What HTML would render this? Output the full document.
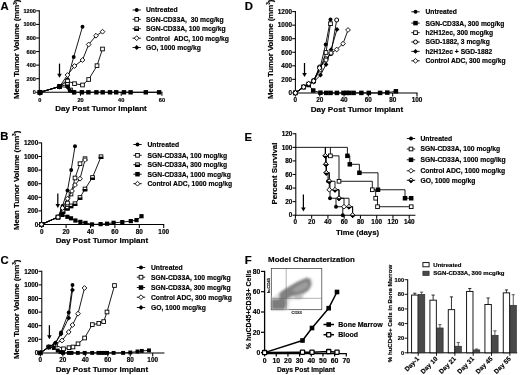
<!DOCTYPE html>
<html><head><meta charset="utf-8"><title>Figure</title>
<style>
html,body{margin:0;padding:0;background:#fff;}
body{width:520px;height:375px;overflow:hidden;}
svg{display:block;}
svg text{font-family:"Liberation Sans",sans-serif;font-weight:bold;fill:#000;stroke:#000;stroke-width:0.18px;}
</style></head><body>
<svg width="520" height="375" viewBox="0 0 520 375">
<defs><filter id="soft" x="0" y="0" width="520" height="375" filterUnits="userSpaceOnUse"><feGaussianBlur stdDeviation="0.35"/></filter><filter id="bl" x="-20%" y="-20%" width="140%" height="140%"><feGaussianBlur stdDeviation="0.9"/></filter></defs>
<rect width="520" height="375" fill="#fff"/>
<g filter="url(#soft)">
<text x="0.6" y="10.05" font-size="11.3" text-anchor="start" >A</text>
<line x1="39.3" y1="10.29" x2="39.3" y2="92.83" stroke="#000" stroke-width="1.05"/>
<line x1="36.1" y1="92.3" x2="39.3" y2="92.3" stroke="#000" stroke-width="1.05"/>
<text x="35.9" y="94.3" font-size="5.6" text-anchor="end" >0</text>
<line x1="36.1" y1="78.72" x2="39.3" y2="78.72" stroke="#000" stroke-width="1.05"/>
<text x="35.9" y="80.72" font-size="5.6" text-anchor="end" >200</text>
<line x1="36.1" y1="65.14" x2="39.3" y2="65.14" stroke="#000" stroke-width="1.05"/>
<text x="35.9" y="67.14" font-size="5.6" text-anchor="end" >400</text>
<line x1="36.1" y1="51.56" x2="39.3" y2="51.56" stroke="#000" stroke-width="1.05"/>
<text x="35.9" y="53.56" font-size="5.6" text-anchor="end" >600</text>
<line x1="36.1" y1="37.98" x2="39.3" y2="37.98" stroke="#000" stroke-width="1.05"/>
<text x="35.9" y="39.98" font-size="5.6" text-anchor="end" >800</text>
<line x1="36.1" y1="24.4" x2="39.3" y2="24.4" stroke="#000" stroke-width="1.05"/>
<text x="35.9" y="26.4" font-size="5.6" text-anchor="end" >1000</text>
<line x1="36.1" y1="10.82" x2="39.3" y2="10.82" stroke="#000" stroke-width="1.05"/>
<text x="35.9" y="12.82" font-size="5.6" text-anchor="end" >1200</text>
<line x1="39.27" y1="92.3" x2="162.43" y2="92.3" stroke="#000" stroke-width="1.05"/>
<line x1="39.8" y1="92.3" x2="39.8" y2="95.8" stroke="#000" stroke-width="1.05"/>
<text x="39.8" y="101.6" font-size="5.6" text-anchor="middle" >0</text>
<line x1="80.5" y1="92.3" x2="80.5" y2="95.8" stroke="#000" stroke-width="1.05"/>
<text x="80.5" y="101.6" font-size="5.6" text-anchor="middle" >20</text>
<line x1="121.2" y1="92.3" x2="121.2" y2="95.8" stroke="#000" stroke-width="1.05"/>
<text x="121.2" y="101.6" font-size="5.6" text-anchor="middle" >40</text>
<line x1="161.9" y1="92.3" x2="161.9" y2="95.8" stroke="#000" stroke-width="1.05"/>
<text x="161.9" y="101.6" font-size="5.6" text-anchor="middle" >60</text>
<text x="19.19" y="49.3" font-size="7.8" text-anchor="middle" transform="rotate(-90 19.19 49.3)">Mean Tumor Volume (mm<tspan font-size="4.6" dy="-2.6">3</tspan><tspan dy="2.6">)</tspan></text>
<text x="101" y="111.46" font-size="8.0" text-anchor="middle" >Day Post Tumor Implant</text>
<line x1="59.5" y1="63.6" x2="59.5" y2="76.3" stroke="#000" stroke-width="1.25"/>
<polygon points="57.2,73.8 61.8,73.8 59.5,77.8" fill="#000"/>
<polyline points="40,92.3 59.6,86.5 67.5,79.5 73.7,57 82.5,26.7" fill="none" stroke="#000" stroke-width="0.9" stroke-linejoin="round"/>
<circle cx="40" cy="92.3" r="1.95" fill="#000"/>
<circle cx="59.6" cy="86.5" r="1.95" fill="#000"/>
<circle cx="67.5" cy="79.5" r="1.95" fill="#000"/>
<circle cx="73.7" cy="57" r="1.95" fill="#000"/>
<circle cx="82.5" cy="26.7" r="1.95" fill="#000"/>
<polyline points="40,92.3 59.6,86.5 67.5,81 74.5,83.7 82.5,85 88.7,79.5 97,65.7 102.5,49" fill="none" stroke="#000" stroke-width="0.9" stroke-linejoin="round"/>
<rect x="38.15" y="90.45" width="3.7" height="3.7" fill="#fff" stroke="#000" stroke-width="0.9"/>
<rect x="57.75" y="84.65" width="3.7" height="3.7" fill="#fff" stroke="#000" stroke-width="0.9"/>
<rect x="65.65" y="79.15" width="3.7" height="3.7" fill="#fff" stroke="#000" stroke-width="0.9"/>
<rect x="72.65" y="81.85" width="3.7" height="3.7" fill="#fff" stroke="#000" stroke-width="0.9"/>
<rect x="80.65" y="83.15" width="3.7" height="3.7" fill="#fff" stroke="#000" stroke-width="0.9"/>
<rect x="86.85" y="77.65" width="3.7" height="3.7" fill="#fff" stroke="#000" stroke-width="0.9"/>
<rect x="95.15" y="63.85" width="3.7" height="3.7" fill="#fff" stroke="#000" stroke-width="0.9"/>
<rect x="100.65" y="47.15" width="3.7" height="3.7" fill="#fff" stroke="#000" stroke-width="0.9"/>
<polyline points="40,92.3 59.6,86.5 67.5,75 74.5,66 82.5,60 88.7,44.5 96,35.7 102.5,31.7" fill="none" stroke="#000" stroke-width="0.9" stroke-linejoin="round"/>
<polygon points="40,89.9 42.4,92.3 40,94.7 37.6,92.3" fill="#fff" stroke="#000" stroke-width="0.9"/>
<polygon points="59.6,84.1 62.0,86.5 59.6,88.9 57.2,86.5" fill="#fff" stroke="#000" stroke-width="0.9"/>
<polygon points="67.5,72.6 69.9,75 67.5,77.4 65.1,75" fill="#fff" stroke="#000" stroke-width="0.9"/>
<polygon points="74.5,63.6 76.9,66 74.5,68.4 72.1,66" fill="#fff" stroke="#000" stroke-width="0.9"/>
<polygon points="82.5,57.6 84.9,60 82.5,62.4 80.1,60" fill="#fff" stroke="#000" stroke-width="0.9"/>
<polygon points="88.7,42.1 91.1,44.5 88.7,46.9 86.3,44.5" fill="#fff" stroke="#000" stroke-width="0.9"/>
<polygon points="96,33.3 98.4,35.7 96,38.1 93.6,35.7" fill="#fff" stroke="#000" stroke-width="0.9"/>
<polygon points="102.5,29.3 104.9,31.7 102.5,34.1 100.1,31.7" fill="#fff" stroke="#000" stroke-width="0.9"/>
<polyline points="40,92.3 59.6,86.5 67.5,84.5 70.5,90" fill="none" stroke="#000" stroke-width="0.9" stroke-linejoin="round"/>
<rect x="38.15" y="90.45" width="3.7" height="3.7" fill="#fff" stroke="#000" stroke-width="0.9"/>
<rect x="37.7" y="92.3" width="4.6" height="2.3" fill="#000"/>
<rect x="57.75" y="84.65" width="3.7" height="3.7" fill="#fff" stroke="#000" stroke-width="0.9"/>
<rect x="57.3" y="86.5" width="4.6" height="2.3" fill="#000"/>
<rect x="65.65" y="82.65" width="3.7" height="3.7" fill="#fff" stroke="#000" stroke-width="0.9"/>
<rect x="65.2" y="84.5" width="4.6" height="2.3" fill="#000"/>
<rect x="68.65" y="88.15" width="3.7" height="3.7" fill="#fff" stroke="#000" stroke-width="0.9"/>
<rect x="68.2" y="90" width="4.6" height="2.3" fill="#000"/>
<polyline points="40,92.3 59.6,86.5 67.8,87.5 70,90.5 73.8,92.3" fill="none" stroke="#000" stroke-width="0.9" stroke-linejoin="round"/>
<polygon points="40,89.85 42.45,92.3 40,94.75 37.55,92.3" fill="#000"/>
<polygon points="59.6,84.05 62.05,86.5 59.6,88.95 57.15,86.5" fill="#000"/>
<polygon points="67.8,85.05 70.25,87.5 67.8,89.95 65.35,87.5" fill="#000"/>
<polygon points="70,88.05 72.45,90.5 70,92.95 67.55,90.5" fill="#000"/>
<polygon points="73.8,89.85 76.25,92.3 73.8,94.75 71.35,92.3" fill="#000"/>
<polyline points="70.5,90 73.8,92.3 159,92.3" fill="none" stroke="#000" stroke-width="0.9" stroke-linejoin="round"/>
<rect x="37.8" y="90.1" width="4.4" height="4.4" fill="#000"/>
<rect x="71.9" y="90.1" width="4.4" height="4.4" fill="#000"/>
<rect x="79.7" y="90.1" width="4.4" height="4.4" fill="#000"/>
<rect x="86.2" y="90.1" width="4.4" height="4.4" fill="#000"/>
<rect x="94.2" y="90.1" width="4.4" height="4.4" fill="#000"/>
<rect x="100.5" y="90.1" width="4.4" height="4.4" fill="#000"/>
<rect x="107.8" y="90.1" width="4.4" height="4.4" fill="#000"/>
<rect x="114.0" y="90.1" width="4.4" height="4.4" fill="#000"/>
<rect x="121.8" y="90.1" width="4.4" height="4.4" fill="#000"/>
<rect x="128.4" y="90.1" width="4.4" height="4.4" fill="#000"/>
<rect x="143.6" y="90.1" width="4.4" height="4.4" fill="#000"/>
<rect x="156.9" y="90.1" width="4.4" height="4.4" fill="#000"/>
<rect x="57.4" y="84.3" width="4.4" height="4.4" fill="#000"/>
<line x1="132.5" y1="10" x2="140.9" y2="10" stroke="#000" stroke-width="0.9"/>
<circle cx="136.7" cy="10" r="1.95" fill="#000"/>
<text x="146" y="12.42" font-size="6.76" text-anchor="start" >Untreated</text>
<line x1="132.5" y1="19.3" x2="140.9" y2="19.3" stroke="#000" stroke-width="0.9"/>
<rect x="134.85" y="17.45" width="3.7" height="3.7" fill="#fff" stroke="#000" stroke-width="0.9"/>
<text x="146" y="21.72" font-size="6.76" text-anchor="start" >SGN-CD33A,&#160;&#160;30 mcg/kg</text>
<line x1="132.5" y1="28.7" x2="140.9" y2="28.7" stroke="#000" stroke-width="0.9"/>
<rect x="134.85" y="26.85" width="3.7" height="3.7" fill="#fff" stroke="#000" stroke-width="0.9"/>
<rect x="134.4" y="28.7" width="4.6" height="2.3" fill="#000"/>
<text x="146" y="31.12" font-size="6.76" text-anchor="start" >SGN-CD33A, 100 mcg/kg</text>
<line x1="132.5" y1="38.2" x2="140.9" y2="38.2" stroke="#000" stroke-width="0.9"/>
<polygon points="136.7,35.8 139.1,38.2 136.7,40.6 134.3,38.2" fill="#fff" stroke="#000" stroke-width="0.9"/>
<text x="146" y="40.62" font-size="6.76" text-anchor="start" >Control&#160;&#160;ADC, 100 mcg/kg</text>
<line x1="132.5" y1="47.5" x2="140.9" y2="47.5" stroke="#000" stroke-width="0.9"/>
<polygon points="136.7,45.05 139.15,47.5 136.7,49.95 134.25,47.5" fill="#000"/>
<text x="146" y="49.92" font-size="6.76" text-anchor="start" >GO, 1000 mcg/kg</text>
<text x="0.2" y="140.35" font-size="11.3" text-anchor="start" >B</text>
<line x1="41.6" y1="142.38" x2="41.6" y2="225.03" stroke="#000" stroke-width="1.05"/>
<line x1="38.4" y1="224.5" x2="41.6" y2="224.5" stroke="#000" stroke-width="1.05"/>
<text x="38.2" y="226.79" font-size="6.4" text-anchor="end" >0</text>
<line x1="38.4" y1="210.9" x2="41.6" y2="210.9" stroke="#000" stroke-width="1.05"/>
<text x="38.2" y="213.19" font-size="6.4" text-anchor="end" >200</text>
<line x1="38.4" y1="197.3" x2="41.6" y2="197.3" stroke="#000" stroke-width="1.05"/>
<text x="38.2" y="199.59" font-size="6.4" text-anchor="end" >400</text>
<line x1="38.4" y1="183.7" x2="41.6" y2="183.7" stroke="#000" stroke-width="1.05"/>
<text x="38.2" y="185.99" font-size="6.4" text-anchor="end" >600</text>
<line x1="38.4" y1="170.1" x2="41.6" y2="170.1" stroke="#000" stroke-width="1.05"/>
<text x="38.2" y="172.39" font-size="6.4" text-anchor="end" >800</text>
<line x1="38.4" y1="156.5" x2="41.6" y2="156.5" stroke="#000" stroke-width="1.05"/>
<text x="38.2" y="158.79" font-size="6.4" text-anchor="end" >1000</text>
<line x1="38.4" y1="142.9" x2="41.6" y2="142.9" stroke="#000" stroke-width="1.05"/>
<text x="38.2" y="145.19" font-size="6.4" text-anchor="end" >1200</text>
<line x1="41.18" y1="224.5" x2="164.22" y2="224.5" stroke="#000" stroke-width="1.05"/>
<line x1="41.7" y1="224.5" x2="41.7" y2="228.0" stroke="#000" stroke-width="1.05"/>
<text x="41.7" y="233.79" font-size="6.4" text-anchor="middle" >0</text>
<line x1="66.1" y1="224.5" x2="66.1" y2="228.0" stroke="#000" stroke-width="1.05"/>
<text x="66.1" y="233.79" font-size="6.4" text-anchor="middle" >20</text>
<line x1="90.5" y1="224.5" x2="90.5" y2="228.0" stroke="#000" stroke-width="1.05"/>
<text x="90.5" y="233.79" font-size="6.4" text-anchor="middle" >40</text>
<line x1="114.9" y1="224.5" x2="114.9" y2="228.0" stroke="#000" stroke-width="1.05"/>
<text x="114.9" y="233.79" font-size="6.4" text-anchor="middle" >60</text>
<line x1="139.3" y1="224.5" x2="139.3" y2="228.0" stroke="#000" stroke-width="1.05"/>
<text x="139.3" y="233.79" font-size="6.4" text-anchor="middle" >80</text>
<line x1="163.7" y1="224.5" x2="163.7" y2="228.0" stroke="#000" stroke-width="1.05"/>
<text x="163.7" y="233.79" font-size="6.4" text-anchor="middle" >100</text>
<text x="18.99" y="180.4" font-size="7.8" text-anchor="middle" transform="rotate(-90 18.99 180.4)">Mean Tumor Volume (mm<tspan font-size="4.6" dy="-2.6">3</tspan><tspan dy="2.6">)</tspan></text>
<text x="102" y="243.1" font-size="8.1" text-anchor="middle" >Day Post Tumor Implant</text>
<line x1="57.8" y1="193.6" x2="57.8" y2="206.5" stroke="#000" stroke-width="1.25"/>
<polygon points="55.5,204 60.1,204 57.8,208" fill="#000"/>
<polyline points="41.5,224.4 58,217.1 62.5,206 67.5,190.5 71.2,170 75,146.2" fill="none" stroke="#000" stroke-width="0.9" stroke-linejoin="round"/>
<circle cx="41.5" cy="224.4" r="1.95" fill="#000"/>
<circle cx="58" cy="217.1" r="1.95" fill="#000"/>
<circle cx="62.5" cy="206" r="1.95" fill="#000"/>
<circle cx="67.5" cy="190.5" r="1.95" fill="#000"/>
<circle cx="71.2" cy="170" r="1.95" fill="#000"/>
<circle cx="75" cy="146.2" r="1.95" fill="#000"/>
<polyline points="41.5,224.4 58,217.1 62.5,210 67.5,203 71,194 75,178 80,163.7 85,158.7" fill="none" stroke="#000" stroke-width="0.9" stroke-linejoin="round"/>
<rect x="39.65" y="222.55" width="3.7" height="3.7" fill="#fff" stroke="#000" stroke-width="0.9"/>
<rect x="56.15" y="215.25" width="3.7" height="3.7" fill="#fff" stroke="#000" stroke-width="0.9"/>
<rect x="60.65" y="208.15" width="3.7" height="3.7" fill="#fff" stroke="#000" stroke-width="0.9"/>
<rect x="65.65" y="201.15" width="3.7" height="3.7" fill="#fff" stroke="#000" stroke-width="0.9"/>
<rect x="69.15" y="192.15" width="3.7" height="3.7" fill="#fff" stroke="#000" stroke-width="0.9"/>
<rect x="73.15" y="176.15" width="3.7" height="3.7" fill="#fff" stroke="#000" stroke-width="0.9"/>
<rect x="78.15" y="161.85" width="3.7" height="3.7" fill="#fff" stroke="#000" stroke-width="0.9"/>
<rect x="83.15" y="156.85" width="3.7" height="3.7" fill="#fff" stroke="#000" stroke-width="0.9"/>
<polyline points="41.5,224.4 58,217.1 63,211.5 67.4,208.2 71,205.9 75,203.7 80,197.5 85,189 92.5,177.5 101,156.7" fill="none" stroke="#000" stroke-width="0.9" stroke-linejoin="round"/>
<rect x="39.65" y="222.55" width="3.7" height="3.7" fill="#fff" stroke="#000" stroke-width="0.9"/>
<rect x="39.2" y="224.4" width="4.6" height="2.3" fill="#000"/>
<rect x="56.15" y="215.25" width="3.7" height="3.7" fill="#fff" stroke="#000" stroke-width="0.9"/>
<rect x="55.7" y="217.1" width="4.6" height="2.3" fill="#000"/>
<rect x="61.15" y="209.65" width="3.7" height="3.7" fill="#fff" stroke="#000" stroke-width="0.9"/>
<rect x="60.7" y="211.5" width="4.6" height="2.3" fill="#000"/>
<rect x="65.55" y="206.35" width="3.7" height="3.7" fill="#fff" stroke="#000" stroke-width="0.9"/>
<rect x="65.1" y="208.2" width="4.6" height="2.3" fill="#000"/>
<rect x="69.15" y="204.05" width="3.7" height="3.7" fill="#fff" stroke="#000" stroke-width="0.9"/>
<rect x="68.7" y="205.9" width="4.6" height="2.3" fill="#000"/>
<rect x="73.15" y="201.85" width="3.7" height="3.7" fill="#fff" stroke="#000" stroke-width="0.9"/>
<rect x="72.7" y="203.7" width="4.6" height="2.3" fill="#000"/>
<rect x="78.15" y="195.65" width="3.7" height="3.7" fill="#fff" stroke="#000" stroke-width="0.9"/>
<rect x="77.7" y="197.5" width="4.6" height="2.3" fill="#000"/>
<rect x="83.15" y="187.15" width="3.7" height="3.7" fill="#fff" stroke="#000" stroke-width="0.9"/>
<rect x="82.7" y="189" width="4.6" height="2.3" fill="#000"/>
<rect x="90.65" y="175.65" width="3.7" height="3.7" fill="#fff" stroke="#000" stroke-width="0.9"/>
<rect x="90.2" y="177.5" width="4.6" height="2.3" fill="#000"/>
<rect x="99.15" y="154.85" width="3.7" height="3.7" fill="#fff" stroke="#000" stroke-width="0.9"/>
<rect x="98.7" y="156.7" width="4.6" height="2.3" fill="#000"/>
<polyline points="41.5,224.4 58,217.1 62.4,214.9 67.4,216.8 71,218.3 75.4,220.5 80.4,221.9 85.5,222.9 92,224.4 100.6,224.1 107.1,223.7 113.6,222.8 122.3,222.1 130.8,221.1 136.5,220.1 141.5,216.2" fill="none" stroke="#000" stroke-width="0.9" stroke-linejoin="round"/>
<rect x="39.4" y="222.3" width="4.2" height="4.2" fill="#000"/>
<rect x="55.9" y="215.0" width="4.2" height="4.2" fill="#000"/>
<rect x="60.3" y="212.8" width="4.2" height="4.2" fill="#000"/>
<rect x="65.3" y="214.7" width="4.2" height="4.2" fill="#000"/>
<rect x="68.9" y="216.2" width="4.2" height="4.2" fill="#000"/>
<rect x="73.3" y="218.4" width="4.2" height="4.2" fill="#000"/>
<rect x="78.3" y="219.8" width="4.2" height="4.2" fill="#000"/>
<rect x="83.4" y="220.8" width="4.2" height="4.2" fill="#000"/>
<rect x="89.9" y="222.3" width="4.2" height="4.2" fill="#000"/>
<rect x="98.5" y="222.0" width="4.2" height="4.2" fill="#000"/>
<rect x="105.0" y="221.6" width="4.2" height="4.2" fill="#000"/>
<rect x="111.5" y="220.7" width="4.2" height="4.2" fill="#000"/>
<rect x="120.2" y="220.0" width="4.2" height="4.2" fill="#000"/>
<rect x="128.7" y="219.0" width="4.2" height="4.2" fill="#000"/>
<rect x="134.4" y="218.0" width="4.2" height="4.2" fill="#000"/>
<rect x="139.4" y="214.1" width="4.2" height="4.2" fill="#000"/>
<polyline points="41.5,224.4 58,217.1 62.5,208 67.5,198.7 72,191 75,185 80,178.7 85,160" fill="none" stroke="#000" stroke-width="0.9" stroke-linejoin="round"/>
<polygon points="41.5,222.0 43.9,224.4 41.5,226.8 39.1,224.4" fill="#fff" stroke="#000" stroke-width="0.9"/>
<polygon points="58,214.7 60.4,217.1 58,219.5 55.6,217.1" fill="#fff" stroke="#000" stroke-width="0.9"/>
<polygon points="62.5,205.6 64.9,208 62.5,210.4 60.1,208" fill="#fff" stroke="#000" stroke-width="0.9"/>
<polygon points="67.5,196.3 69.9,198.7 67.5,201.1 65.1,198.7" fill="#fff" stroke="#000" stroke-width="0.9"/>
<polygon points="72,188.6 74.4,191 72,193.4 69.6,191" fill="#fff" stroke="#000" stroke-width="0.9"/>
<polygon points="75,182.6 77.4,185 75,187.4 72.6,185" fill="#fff" stroke="#000" stroke-width="0.9"/>
<polygon points="80,176.3 82.4,178.7 80,181.1 77.6,178.7" fill="#fff" stroke="#000" stroke-width="0.9"/>
<polygon points="85,157.6 87.4,160 85,162.4 82.6,160" fill="#fff" stroke="#000" stroke-width="0.9"/>
<circle cx="41.5" cy="224.4" r="2.0" fill="#fff" stroke="#000" stroke-width="1.0"/>
<line x1="133.3" y1="144.5" x2="141.7" y2="144.5" stroke="#000" stroke-width="0.9"/>
<circle cx="137.5" cy="144.5" r="1.95" fill="#000"/>
<text x="147.5" y="146.92" font-size="6.76" text-anchor="start" >Untreated</text>
<line x1="133.3" y1="155.3" x2="141.7" y2="155.3" stroke="#000" stroke-width="0.9"/>
<rect x="135.65" y="153.45" width="3.7" height="3.7" fill="#fff" stroke="#000" stroke-width="0.9"/>
<text x="147.5" y="157.72" font-size="6.76" text-anchor="start" >SGN-CD33A, 100 mcg/kg</text>
<line x1="133.3" y1="164.7" x2="141.7" y2="164.7" stroke="#000" stroke-width="0.9"/>
<rect x="135.65" y="162.85" width="3.7" height="3.7" fill="#fff" stroke="#000" stroke-width="0.9"/>
<rect x="135.2" y="164.7" width="4.6" height="2.3" fill="#000"/>
<text x="147.5" y="167.12" font-size="6.76" text-anchor="start" >SGN-CD33A, 300 mcg/kg</text>
<line x1="133.3" y1="174.2" x2="141.7" y2="174.2" stroke="#000" stroke-width="0.9"/>
<rect x="135.25" y="171.95" width="4.5" height="4.5" fill="#000"/>
<text x="147.5" y="176.62" font-size="6.76" text-anchor="start" >SGN-CD33A, 1000 mcg/kg</text>
<line x1="133.3" y1="183.7" x2="141.7" y2="183.7" stroke="#000" stroke-width="0.9"/>
<polygon points="137.5,181.3 139.9,183.7 137.5,186.1 135.1,183.7" fill="#fff" stroke="#000" stroke-width="0.9"/>
<text x="147.5" y="186.12" font-size="6.76" text-anchor="start" >Control ADC, 1000 mcg/kg</text>
<text x="0.6" y="264.35" font-size="11.3" text-anchor="start" >C</text>
<line x1="41.8" y1="270.77" x2="41.8" y2="353.42" stroke="#000" stroke-width="1.05"/>
<line x1="38.6" y1="352.9" x2="41.8" y2="352.9" stroke="#000" stroke-width="1.05"/>
<text x="38.4" y="355.19" font-size="6.4" text-anchor="end" >0</text>
<line x1="38.6" y1="339.3" x2="41.8" y2="339.3" stroke="#000" stroke-width="1.05"/>
<text x="38.4" y="341.59" font-size="6.4" text-anchor="end" >200</text>
<line x1="38.6" y1="325.7" x2="41.8" y2="325.7" stroke="#000" stroke-width="1.05"/>
<text x="38.4" y="327.99" font-size="6.4" text-anchor="end" >400</text>
<line x1="38.6" y1="312.1" x2="41.8" y2="312.1" stroke="#000" stroke-width="1.05"/>
<text x="38.4" y="314.39" font-size="6.4" text-anchor="end" >600</text>
<line x1="38.6" y1="298.5" x2="41.8" y2="298.5" stroke="#000" stroke-width="1.05"/>
<text x="38.4" y="300.79" font-size="6.4" text-anchor="end" >800</text>
<line x1="38.6" y1="284.9" x2="41.8" y2="284.9" stroke="#000" stroke-width="1.05"/>
<text x="38.4" y="287.19" font-size="6.4" text-anchor="end" >1000</text>
<line x1="38.6" y1="271.3" x2="41.8" y2="271.3" stroke="#000" stroke-width="1.05"/>
<text x="38.4" y="273.59" font-size="6.4" text-anchor="end" >1200</text>
<line x1="39.88" y1="352.9" x2="164.46" y2="352.9" stroke="#000" stroke-width="1.05"/>
<line x1="40.4" y1="352.9" x2="40.4" y2="356.4" stroke="#000" stroke-width="1.05"/>
<text x="40.4" y="362.19" font-size="6.4" text-anchor="middle" >0</text>
<line x1="62.86" y1="352.9" x2="62.86" y2="356.4" stroke="#000" stroke-width="1.05"/>
<text x="62.86" y="362.19" font-size="6.4" text-anchor="middle" >20</text>
<line x1="85.32" y1="352.9" x2="85.32" y2="356.4" stroke="#000" stroke-width="1.05"/>
<text x="85.32" y="362.19" font-size="6.4" text-anchor="middle" >40</text>
<line x1="107.78" y1="352.9" x2="107.78" y2="356.4" stroke="#000" stroke-width="1.05"/>
<text x="107.78" y="362.19" font-size="6.4" text-anchor="middle" >60</text>
<line x1="130.24" y1="352.9" x2="130.24" y2="356.4" stroke="#000" stroke-width="1.05"/>
<text x="130.24" y="362.19" font-size="6.4" text-anchor="middle" >80</text>
<line x1="152.7" y1="352.9" x2="152.7" y2="356.4" stroke="#000" stroke-width="1.05"/>
<text x="152.7" y="362.19" font-size="6.4" text-anchor="middle" >100</text>
<text x="18.99" y="309.3" font-size="7.8" text-anchor="middle" transform="rotate(-90 18.99 309.3)">Mean Tumor Volume (mm<tspan font-size="4.6" dy="-2.6">3</tspan><tspan dy="2.6">)</tspan></text>
<text x="102" y="372.2" font-size="8.1" text-anchor="middle" >Day Post Tumor Implant</text>
<line x1="49.4" y1="325.2" x2="49.4" y2="337.7" stroke="#000" stroke-width="1.25"/>
<polygon points="47.1,335.2 51.7,335.2 49.4,339.2" fill="#000"/>
<polyline points="40.4,352.9 48.8,347 55.5,343 61,332.5 68.7,312.5 72.5,285" fill="none" stroke="#000" stroke-width="0.9" stroke-linejoin="round"/>
<circle cx="40.4" cy="352.9" r="1.95" fill="#000"/>
<circle cx="48.8" cy="347" r="1.95" fill="#000"/>
<circle cx="55.5" cy="343" r="1.95" fill="#000"/>
<circle cx="61" cy="332.5" r="1.95" fill="#000"/>
<circle cx="68.7" cy="312.5" r="1.95" fill="#000"/>
<circle cx="72.5" cy="285" r="1.95" fill="#000"/>
<polyline points="40.4,352.9 48.8,347 55.5,345 63.5,348.8 69,347.7 73,347 78,343.8 84.6,338 92.3,324.6 98.8,323.4 103.7,321.6 107,312 114.5,285.5" fill="none" stroke="#000" stroke-width="0.9" stroke-linejoin="round"/>
<rect x="38.55" y="351.05" width="3.7" height="3.7" fill="#fff" stroke="#000" stroke-width="0.9"/>
<rect x="46.95" y="345.15" width="3.7" height="3.7" fill="#fff" stroke="#000" stroke-width="0.9"/>
<rect x="53.65" y="343.15" width="3.7" height="3.7" fill="#fff" stroke="#000" stroke-width="0.9"/>
<rect x="61.65" y="346.95" width="3.7" height="3.7" fill="#fff" stroke="#000" stroke-width="0.9"/>
<rect x="67.15" y="345.85" width="3.7" height="3.7" fill="#fff" stroke="#000" stroke-width="0.9"/>
<rect x="71.15" y="345.15" width="3.7" height="3.7" fill="#fff" stroke="#000" stroke-width="0.9"/>
<rect x="76.15" y="341.95" width="3.7" height="3.7" fill="#fff" stroke="#000" stroke-width="0.9"/>
<rect x="82.75" y="336.15" width="3.7" height="3.7" fill="#fff" stroke="#000" stroke-width="0.9"/>
<rect x="90.45" y="322.75" width="3.7" height="3.7" fill="#fff" stroke="#000" stroke-width="0.9"/>
<rect x="96.95" y="321.55" width="3.7" height="3.7" fill="#fff" stroke="#000" stroke-width="0.9"/>
<rect x="101.85" y="319.75" width="3.7" height="3.7" fill="#fff" stroke="#000" stroke-width="0.9"/>
<rect x="105.15" y="310.15" width="3.7" height="3.7" fill="#fff" stroke="#000" stroke-width="0.9"/>
<rect x="112.65" y="283.65" width="3.7" height="3.7" fill="#fff" stroke="#000" stroke-width="0.9"/>
<polyline points="40.4,352.9 48.8,347 53.8,348 57.7,350.5 60.5,352 63.1,352.9 68.9,352.9 71.5,352.9 77.8,352.9 84.7,352.9 92.2,352.9 98.4,352.9 101.3,352.9 104.2,352.9 107.1,352.9 113.6,352.9 123.1,352.9 130.3,352.5 137.5,351.5 141.8,350.9 149,350.4" fill="none" stroke="#000" stroke-width="0.9" stroke-linejoin="round"/>
<rect x="38.45" y="350.95" width="3.9" height="3.9" fill="#000"/>
<rect x="46.85" y="345.05" width="3.9" height="3.9" fill="#000"/>
<rect x="51.85" y="346.05" width="3.9" height="3.9" fill="#000"/>
<rect x="55.75" y="348.55" width="3.9" height="3.9" fill="#000"/>
<rect x="58.55" y="350.05" width="3.9" height="3.9" fill="#000"/>
<rect x="61.15" y="350.95" width="3.9" height="3.9" fill="#000"/>
<rect x="66.95" y="350.95" width="3.9" height="3.9" fill="#000"/>
<rect x="69.55" y="350.95" width="3.9" height="3.9" fill="#000"/>
<rect x="75.85" y="350.95" width="3.9" height="3.9" fill="#000"/>
<rect x="82.75" y="350.95" width="3.9" height="3.9" fill="#000"/>
<rect x="90.25" y="350.95" width="3.9" height="3.9" fill="#000"/>
<rect x="96.45" y="350.95" width="3.9" height="3.9" fill="#000"/>
<rect x="99.35" y="350.95" width="3.9" height="3.9" fill="#000"/>
<rect x="102.25" y="350.95" width="3.9" height="3.9" fill="#000"/>
<rect x="105.15" y="350.95" width="3.9" height="3.9" fill="#000"/>
<rect x="111.65" y="350.95" width="3.9" height="3.9" fill="#000"/>
<rect x="121.15" y="350.95" width="3.9" height="3.9" fill="#000"/>
<rect x="128.35" y="350.55" width="3.9" height="3.9" fill="#000"/>
<rect x="135.55" y="349.55" width="3.9" height="3.9" fill="#000"/>
<rect x="139.85" y="348.95" width="3.9" height="3.9" fill="#000"/>
<rect x="147.05" y="348.45" width="3.9" height="3.9" fill="#000"/>
<polyline points="40.4,352.9 48.8,347 55.5,343.5 62,340.5 68.7,332 72.5,325 78,313.7 84.5,288" fill="none" stroke="#000" stroke-width="0.9" stroke-linejoin="round"/>
<polygon points="40.4,350.5 42.8,352.9 40.4,355.3 38.0,352.9" fill="#fff" stroke="#000" stroke-width="0.9"/>
<polygon points="48.8,344.6 51.2,347 48.8,349.4 46.4,347" fill="#fff" stroke="#000" stroke-width="0.9"/>
<polygon points="55.5,341.1 57.9,343.5 55.5,345.9 53.1,343.5" fill="#fff" stroke="#000" stroke-width="0.9"/>
<polygon points="62,338.1 64.4,340.5 62,342.9 59.6,340.5" fill="#fff" stroke="#000" stroke-width="0.9"/>
<polygon points="68.7,329.6 71.1,332 68.7,334.4 66.3,332" fill="#fff" stroke="#000" stroke-width="0.9"/>
<polygon points="72.5,322.6 74.9,325 72.5,327.4 70.1,325" fill="#fff" stroke="#000" stroke-width="0.9"/>
<polygon points="78,311.3 80.4,313.7 78,316.1 75.6,313.7" fill="#fff" stroke="#000" stroke-width="0.9"/>
<polygon points="84.5,285.6 86.9,288 84.5,290.4 82.1,288" fill="#fff" stroke="#000" stroke-width="0.9"/>
<polyline points="40.4,352.9 48.8,347 55.5,343 61,334 68.7,318 72.5,290" fill="none" stroke="#000" stroke-width="0.9" stroke-linejoin="round"/>
<polygon points="40.4,350.45 42.85,352.9 40.4,355.35 37.95,352.9" fill="#000"/>
<polygon points="48.8,344.55 51.25,347 48.8,349.45 46.35,347" fill="#000"/>
<polygon points="55.5,340.55 57.95,343 55.5,345.45 53.05,343" fill="#000"/>
<polygon points="61,331.55 63.45,334 61,336.45 58.55,334" fill="#000"/>
<polygon points="68.7,315.55 71.15,318 68.7,320.45 66.25,318" fill="#000"/>
<polygon points="72.5,287.55 74.95,290 72.5,292.45 70.05,290" fill="#000"/>
<line x1="136.8" y1="267.5" x2="145.2" y2="267.5" stroke="#000" stroke-width="0.9"/>
<circle cx="141" cy="267.5" r="1.95" fill="#000"/>
<text x="151" y="269.92" font-size="6.76" text-anchor="start" >Untreated</text>
<line x1="136.8" y1="277.2" x2="145.2" y2="277.2" stroke="#000" stroke-width="0.9"/>
<rect x="139.15" y="275.35" width="3.7" height="3.7" fill="#fff" stroke="#000" stroke-width="0.9"/>
<text x="151" y="279.62" font-size="6.76" text-anchor="start" >SGN-CD33A, 100 mcg/kg</text>
<line x1="136.8" y1="287.5" x2="145.2" y2="287.5" stroke="#000" stroke-width="0.9"/>
<rect x="138.75" y="285.25" width="4.5" height="4.5" fill="#000"/>
<text x="151" y="289.92" font-size="6.76" text-anchor="start" >SGN-CD33A, 300 mcg/kg</text>
<line x1="136.8" y1="297.2" x2="145.2" y2="297.2" stroke="#000" stroke-width="0.9"/>
<polygon points="141,294.8 143.4,297.2 141,299.6 138.6,297.2" fill="#fff" stroke="#000" stroke-width="0.9"/>
<text x="151" y="299.62" font-size="6.76" text-anchor="start" >Control ADC, 300 mcg/kg</text>
<line x1="136.8" y1="307.5" x2="145.2" y2="307.5" stroke="#000" stroke-width="0.9"/>
<polygon points="141,305.05 143.45,307.5 141,309.95 138.55,307.5" fill="#000"/>
<text x="151" y="309.92" font-size="6.76" text-anchor="start" >GO, 1000 mcg/kg</text>
<text x="244.7" y="9.95" font-size="11.3" text-anchor="start" >D</text>
<line x1="295.4" y1="11.07" x2="295.4" y2="93.43" stroke="#000" stroke-width="1.05"/>
<line x1="292.2" y1="92.9" x2="295.4" y2="92.9" stroke="#000" stroke-width="1.05"/>
<text x="292.0" y="95.19" font-size="6.4" text-anchor="end" >0</text>
<line x1="292.2" y1="79.35" x2="295.4" y2="79.35" stroke="#000" stroke-width="1.05"/>
<text x="292.0" y="81.64" font-size="6.4" text-anchor="end" >200</text>
<line x1="292.2" y1="65.8" x2="295.4" y2="65.8" stroke="#000" stroke-width="1.05"/>
<text x="292.0" y="68.09" font-size="6.4" text-anchor="end" >400</text>
<line x1="292.2" y1="52.25" x2="295.4" y2="52.25" stroke="#000" stroke-width="1.05"/>
<text x="292.0" y="54.54" font-size="6.4" text-anchor="end" >600</text>
<line x1="292.2" y1="38.7" x2="295.4" y2="38.7" stroke="#000" stroke-width="1.05"/>
<text x="292.0" y="40.99" font-size="6.4" text-anchor="end" >800</text>
<line x1="292.2" y1="25.15" x2="295.4" y2="25.15" stroke="#000" stroke-width="1.05"/>
<text x="292.0" y="27.44" font-size="6.4" text-anchor="end" >1000</text>
<line x1="292.2" y1="11.6" x2="295.4" y2="11.6" stroke="#000" stroke-width="1.05"/>
<text x="292.0" y="13.89" font-size="6.4" text-anchor="end" >1200</text>
<line x1="294.88" y1="92.9" x2="417.52" y2="92.9" stroke="#000" stroke-width="1.05"/>
<line x1="295.4" y1="92.9" x2="295.4" y2="96.4" stroke="#000" stroke-width="1.05"/>
<text x="295.4" y="102.19" font-size="6.4" text-anchor="middle" >0</text>
<line x1="319.72" y1="92.9" x2="319.72" y2="96.4" stroke="#000" stroke-width="1.05"/>
<text x="319.72" y="102.19" font-size="6.4" text-anchor="middle" >20</text>
<line x1="344.04" y1="92.9" x2="344.04" y2="96.4" stroke="#000" stroke-width="1.05"/>
<text x="344.04" y="102.19" font-size="6.4" text-anchor="middle" >40</text>
<line x1="368.36" y1="92.9" x2="368.36" y2="96.4" stroke="#000" stroke-width="1.05"/>
<text x="368.36" y="102.19" font-size="6.4" text-anchor="middle" >60</text>
<line x1="392.68" y1="92.9" x2="392.68" y2="96.4" stroke="#000" stroke-width="1.05"/>
<text x="392.68" y="102.19" font-size="6.4" text-anchor="middle" >80</text>
<line x1="417.0" y1="92.9" x2="417.0" y2="96.4" stroke="#000" stroke-width="1.05"/>
<text x="417.0" y="102.19" font-size="6.4" text-anchor="middle" >100</text>
<text x="272.69" y="49.3" font-size="7.8" text-anchor="middle" transform="rotate(-90 272.69 49.3)">Mean Tumor Volume (mm<tspan font-size="4.6" dy="-2.6">3</tspan><tspan dy="2.6">)</tspan></text>
<text x="357" y="112.2" font-size="8.1" text-anchor="middle" >Day Post Tumor Implant</text>
<line x1="304.5" y1="63" x2="304.5" y2="75.5" stroke="#000" stroke-width="1.25"/>
<polygon points="302.2,73 306.8,73 304.5,77" fill="#000"/>
<polyline points="295.4,92.9 303.7,87 308.7,84 313.7,80 320,68 325.7,44.5 330.5,19.5" fill="none" stroke="#000" stroke-width="0.9" stroke-linejoin="round"/>
<circle cx="295.4" cy="92.9" r="1.95" fill="#000"/>
<circle cx="303.7" cy="87" r="1.95" fill="#000"/>
<circle cx="308.7" cy="84" r="1.95" fill="#000"/>
<circle cx="313.7" cy="80" r="1.95" fill="#000"/>
<circle cx="320" cy="68" r="1.95" fill="#000"/>
<circle cx="325.7" cy="44.5" r="1.95" fill="#000"/>
<circle cx="330.5" cy="19.5" r="1.95" fill="#000"/>
<polyline points="295.4,92.9 303.7,87 308.7,85 313.2,90.5 320.4,92.7 326.2,92.9 330.5,92.9 336.9,92.9 343.5,92.9 346.4,92.9 349.3,92.9 353.6,92.9 361.4,92.9 368.8,92.9 380.1,92.9 387.3,92.6 395.9,91.3" fill="none" stroke="#000" stroke-width="0.9" stroke-linejoin="round"/>
<rect x="293.15" y="90.65" width="4.5" height="4.5" fill="#000"/>
<rect x="301.45" y="84.75" width="4.5" height="4.5" fill="#000"/>
<rect x="306.45" y="82.75" width="4.5" height="4.5" fill="#000"/>
<rect x="310.95" y="88.25" width="4.5" height="4.5" fill="#000"/>
<rect x="318.15" y="90.45" width="4.5" height="4.5" fill="#000"/>
<rect x="323.95" y="90.65" width="4.5" height="4.5" fill="#000"/>
<rect x="328.25" y="90.65" width="4.5" height="4.5" fill="#000"/>
<rect x="334.65" y="90.65" width="4.5" height="4.5" fill="#000"/>
<rect x="341.25" y="90.65" width="4.5" height="4.5" fill="#000"/>
<rect x="344.15" y="90.65" width="4.5" height="4.5" fill="#000"/>
<rect x="347.05" y="90.65" width="4.5" height="4.5" fill="#000"/>
<rect x="351.35" y="90.65" width="4.5" height="4.5" fill="#000"/>
<rect x="359.15" y="90.65" width="4.5" height="4.5" fill="#000"/>
<rect x="366.55" y="90.65" width="4.5" height="4.5" fill="#000"/>
<rect x="377.85" y="90.65" width="4.5" height="4.5" fill="#000"/>
<rect x="385.05" y="90.35" width="4.5" height="4.5" fill="#000"/>
<rect x="393.65" y="89.05" width="4.5" height="4.5" fill="#000"/>
<polyline points="295.4,92.9 303.7,87 308.7,84 313.7,81 320,70 326,52.5 330.5,23.7" fill="none" stroke="#000" stroke-width="0.9" stroke-linejoin="round"/>
<rect x="293.55" y="91.05" width="3.7" height="3.7" fill="#fff" stroke="#000" stroke-width="0.9"/>
<rect x="301.85" y="85.15" width="3.7" height="3.7" fill="#fff" stroke="#000" stroke-width="0.9"/>
<rect x="306.85" y="82.15" width="3.7" height="3.7" fill="#fff" stroke="#000" stroke-width="0.9"/>
<rect x="311.85" y="79.15" width="3.7" height="3.7" fill="#fff" stroke="#000" stroke-width="0.9"/>
<rect x="318.15" y="68.15" width="3.7" height="3.7" fill="#fff" stroke="#000" stroke-width="0.9"/>
<rect x="324.15" y="50.65" width="3.7" height="3.7" fill="#fff" stroke="#000" stroke-width="0.9"/>
<rect x="328.65" y="21.85" width="3.7" height="3.7" fill="#fff" stroke="#000" stroke-width="0.9"/>
<polyline points="295.4,92.9 303.7,87 308.7,84 313.7,81 319.5,67 326,58.7 331,53.7 336.7,20" fill="none" stroke="#000" stroke-width="0.9" stroke-linejoin="round"/>
<circle cx="295.4" cy="92.9" r="2.0" fill="#fff" stroke="#000" stroke-width="1.0"/>
<circle cx="303.7" cy="87" r="2.0" fill="#fff" stroke="#000" stroke-width="1.0"/>
<circle cx="308.7" cy="84" r="2.0" fill="#fff" stroke="#000" stroke-width="1.0"/>
<circle cx="313.7" cy="81" r="2.0" fill="#fff" stroke="#000" stroke-width="1.0"/>
<circle cx="319.5" cy="67" r="2.0" fill="#fff" stroke="#000" stroke-width="1.0"/>
<circle cx="326" cy="58.7" r="2.0" fill="#fff" stroke="#000" stroke-width="1.0"/>
<circle cx="331" cy="53.7" r="2.0" fill="#fff" stroke="#000" stroke-width="1.0"/>
<circle cx="336.7" cy="20" r="2.0" fill="#fff" stroke="#000" stroke-width="1.0"/>
<polyline points="295.4,92.9 303.7,87 308.7,84.5 313.7,82 320.5,75 326,64.5 331,49.8 337,29.4" fill="none" stroke="#000" stroke-width="0.9" stroke-linejoin="round"/>
<polygon points="295.4,90.45 297.85,92.9 295.4,95.35 292.95,92.9" fill="#000"/>
<polygon points="303.7,84.55 306.15,87 303.7,89.45 301.25,87" fill="#000"/>
<polygon points="308.7,82.05 311.15,84.5 308.7,86.95 306.25,84.5" fill="#000"/>
<polygon points="313.7,79.55 316.15,82 313.7,84.45 311.25,82" fill="#000"/>
<polygon points="320.5,72.55 322.95,75 320.5,77.45 318.05,75" fill="#000"/>
<polygon points="326,62.05 328.45,64.5 326,66.95 323.55,64.5" fill="#000"/>
<polygon points="331,47.35 333.45,49.8 331,52.25 328.55,49.8" fill="#000"/>
<polygon points="337,26.95 339.45,29.4 337,31.85 334.55,29.4" fill="#000"/>
<polyline points="295.4,92.9 303.7,87 308.7,83.7 313.7,81 319.5,68 326,60 331,53 336.7,49.5 343,43.7 348,30" fill="none" stroke="#000" stroke-width="0.9" stroke-linejoin="round"/>
<polygon points="295.4,90.5 297.8,92.9 295.4,95.3 293.0,92.9" fill="#fff" stroke="#000" stroke-width="0.9"/>
<polygon points="303.7,84.6 306.1,87 303.7,89.4 301.3,87" fill="#fff" stroke="#000" stroke-width="0.9"/>
<polygon points="308.7,81.3 311.1,83.7 308.7,86.1 306.3,83.7" fill="#fff" stroke="#000" stroke-width="0.9"/>
<polygon points="313.7,78.6 316.1,81 313.7,83.4 311.3,81" fill="#fff" stroke="#000" stroke-width="0.9"/>
<polygon points="319.5,65.6 321.9,68 319.5,70.4 317.1,68" fill="#fff" stroke="#000" stroke-width="0.9"/>
<polygon points="326,57.6 328.4,60 326,62.4 323.6,60" fill="#fff" stroke="#000" stroke-width="0.9"/>
<polygon points="331,50.6 333.4,53 331,55.4 328.6,53" fill="#fff" stroke="#000" stroke-width="0.9"/>
<polygon points="336.7,47.1 339.1,49.5 336.7,51.9 334.3,49.5" fill="#fff" stroke="#000" stroke-width="0.9"/>
<polygon points="343,41.3 345.4,43.7 343,46.1 340.6,43.7" fill="#fff" stroke="#000" stroke-width="0.9"/>
<polygon points="348,27.6 350.4,30 348,32.4 345.6,30" fill="#fff" stroke="#000" stroke-width="0.9"/>
<line x1="411.3" y1="11.8" x2="419.7" y2="11.8" stroke="#000" stroke-width="0.9"/>
<circle cx="415.5" cy="11.8" r="1.95" fill="#000"/>
<text x="425.5" y="14.2" font-size="6.7" text-anchor="start" >Untreated</text>
<line x1="411.3" y1="23.1" x2="419.7" y2="23.1" stroke="#000" stroke-width="0.9"/>
<rect x="413.25" y="20.85" width="4.5" height="4.5" fill="#000"/>
<text x="425.5" y="25.5" font-size="6.7" text-anchor="start" >SGN-CD33A, 300 mcg/kg</text>
<line x1="411.3" y1="32.7" x2="419.7" y2="32.7" stroke="#000" stroke-width="0.9"/>
<rect x="413.65" y="30.85" width="3.7" height="3.7" fill="#fff" stroke="#000" stroke-width="0.9"/>
<text x="425.5" y="35.1" font-size="6.7" text-anchor="start" >h2H12ec, 300 mcg/kg</text>
<line x1="411.3" y1="42" x2="419.7" y2="42" stroke="#000" stroke-width="0.9"/>
<circle cx="415.5" cy="42" r="2.0" fill="#fff" stroke="#000" stroke-width="1.0"/>
<text x="425.5" y="44.4" font-size="6.7" text-anchor="start" >SGD-1882, 3 mcg/kg</text>
<line x1="411.3" y1="51.4" x2="419.7" y2="51.4" stroke="#000" stroke-width="0.9"/>
<polygon points="415.5,48.95 417.95,51.4 415.5,53.85 413.05,51.4" fill="#000"/>
<text x="425.5" y="53.8" font-size="6.7" text-anchor="start" >h2H12ec + SGD-1882</text>
<line x1="411.3" y1="60.8" x2="419.7" y2="60.8" stroke="#000" stroke-width="0.9"/>
<polygon points="415.5,58.4 417.9,60.8 415.5,63.2 413.1,60.8" fill="#fff" stroke="#000" stroke-width="0.9"/>
<text x="425.5" y="63.2" font-size="6.7" text-anchor="start" >Control ADC, 300 mcg/kg</text>
<text x="244.6" y="140.95" font-size="11.3" text-anchor="start" >E</text>
<line x1="295.8" y1="133.25" x2="295.8" y2="215.72" stroke="#000" stroke-width="1.05"/>
<line x1="292.6" y1="215.2" x2="295.8" y2="215.2" stroke="#000" stroke-width="1.05"/>
<text x="292.4" y="217.49" font-size="6.4" text-anchor="end" >0</text>
<line x1="292.6" y1="201.63" x2="295.8" y2="201.63" stroke="#000" stroke-width="1.05"/>
<text x="292.4" y="203.92" font-size="6.4" text-anchor="end" >20</text>
<line x1="292.6" y1="188.06" x2="295.8" y2="188.06" stroke="#000" stroke-width="1.05"/>
<text x="292.4" y="190.35" font-size="6.4" text-anchor="end" >40</text>
<line x1="292.6" y1="174.49" x2="295.8" y2="174.49" stroke="#000" stroke-width="1.05"/>
<text x="292.4" y="176.78" font-size="6.4" text-anchor="end" >60</text>
<line x1="292.6" y1="160.92" x2="295.8" y2="160.92" stroke="#000" stroke-width="1.05"/>
<text x="292.4" y="163.21" font-size="6.4" text-anchor="end" >80</text>
<line x1="292.6" y1="147.35" x2="295.8" y2="147.35" stroke="#000" stroke-width="1.05"/>
<text x="292.4" y="149.64" font-size="6.4" text-anchor="end" >100</text>
<line x1="292.6" y1="133.78" x2="295.8" y2="133.78" stroke="#000" stroke-width="1.05"/>
<text x="292.4" y="136.07" font-size="6.4" text-anchor="end" >120</text>
<line x1="294.88" y1="215.2" x2="415.44" y2="215.2" stroke="#000" stroke-width="1.05"/>
<line x1="295.4" y1="215.2" x2="295.4" y2="218.7" stroke="#000" stroke-width="1.05"/>
<text x="295.4" y="224.49" font-size="6.4" text-anchor="middle" >0</text>
<line x1="311.66" y1="215.2" x2="311.66" y2="218.7" stroke="#000" stroke-width="1.05"/>
<text x="311.66" y="224.49" font-size="6.4" text-anchor="middle" >20</text>
<line x1="327.92" y1="215.2" x2="327.92" y2="218.7" stroke="#000" stroke-width="1.05"/>
<text x="327.92" y="224.49" font-size="6.4" text-anchor="middle" >40</text>
<line x1="344.18" y1="215.2" x2="344.18" y2="218.7" stroke="#000" stroke-width="1.05"/>
<text x="344.18" y="224.49" font-size="6.4" text-anchor="middle" >60</text>
<line x1="360.44" y1="215.2" x2="360.44" y2="218.7" stroke="#000" stroke-width="1.05"/>
<text x="360.44" y="224.49" font-size="6.4" text-anchor="middle" >80</text>
<line x1="376.7" y1="215.2" x2="376.7" y2="218.7" stroke="#000" stroke-width="1.05"/>
<text x="376.7" y="224.49" font-size="6.4" text-anchor="middle" >100</text>
<line x1="392.96" y1="215.2" x2="392.96" y2="218.7" stroke="#000" stroke-width="1.05"/>
<text x="392.96" y="224.49" font-size="6.4" text-anchor="middle" >120</text>
<line x1="409.22" y1="215.2" x2="409.22" y2="218.7" stroke="#000" stroke-width="1.05"/>
<text x="409.22" y="224.49" font-size="6.4" text-anchor="middle" >140</text>
<text x="277.13" y="173.5" font-size="7.9" text-anchor="middle" transform="rotate(-90 277.13 173.5)">Percent Survival</text>
<text x="357.5" y="235.29" font-size="7.8" text-anchor="middle" >Time (days)</text>
<line x1="303.4" y1="194.5" x2="303.4" y2="210.0" stroke="#000" stroke-width="1.25"/>
<polygon points="301.1,207.5 305.7,207.5 303.4,211.5" fill="#000"/>
<line x1="295.4" y1="147.35" x2="347.4" y2="147.35" stroke="#000" stroke-width="0.9"/>
<polyline points="325.4,147.35 325.4,147.35 325.4,155.83 325.9,155.83 325.9,164.31 326.3,164.31 326.3,172.79 328,172.79 328,181.27 330,181.27 330,198.24 336,198.24 336,206.72 342.8,206.72 342.8,215.2" fill="none" stroke="#000" stroke-width="0.9" stroke-linejoin="round"/>
<circle cx="325.4" cy="155.83" r="1.95" fill="#000"/>
<circle cx="325.9" cy="164.31" r="1.95" fill="#000"/>
<circle cx="326.3" cy="172.79" r="1.95" fill="#000"/>
<circle cx="328" cy="181.27" r="1.95" fill="#000"/>
<circle cx="330" cy="198.24" r="1.95" fill="#000"/>
<circle cx="336" cy="206.72" r="1.95" fill="#000"/>
<circle cx="342.8" cy="215.2" r="1.95" fill="#000"/>
<polyline points="330.4,147.35 330.4,147.35 330.4,155.83 339,155.83 339,181.27 372.3,181.27 372.3,189.76 375.7,189.76 375.7,198.24 377.5,198.24 377.5,206.72 411.2,206.72 411.2,206.72" fill="none" stroke="#000" stroke-width="0.9" stroke-linejoin="round"/>
<rect x="328.55" y="153.98" width="3.7" height="3.7" fill="#fff" stroke="#000" stroke-width="0.9"/>
<rect x="337.15" y="179.42" width="3.7" height="3.7" fill="#fff" stroke="#000" stroke-width="0.9"/>
<rect x="370.45" y="187.91" width="3.7" height="3.7" fill="#fff" stroke="#000" stroke-width="0.9"/>
<rect x="373.85" y="196.39" width="3.7" height="3.7" fill="#fff" stroke="#000" stroke-width="0.9"/>
<rect x="375.65" y="204.87" width="3.7" height="3.7" fill="#fff" stroke="#000" stroke-width="0.9"/>
<rect x="409.35" y="204.87" width="3.7" height="3.7" fill="#fff" stroke="#000" stroke-width="0.9"/>
<polyline points="347.4,147.35 347.4,147.35 347.4,155.83 349.8,155.83 349.8,164.31 359.4,164.31 359.4,172.79 378,172.79 378,189.76 405,189.76 405,198.24 411.2,198.24 411.2,198.24" fill="none" stroke="#000" stroke-width="0.9" stroke-linejoin="round"/>
<rect x="345.15" y="153.58" width="4.5" height="4.5" fill="#000"/>
<rect x="347.55" y="162.06" width="4.5" height="4.5" fill="#000"/>
<rect x="357.15" y="170.54" width="4.5" height="4.5" fill="#000"/>
<rect x="375.75" y="187.51" width="4.5" height="4.5" fill="#000"/>
<rect x="402.75" y="195.99" width="4.5" height="4.5" fill="#000"/>
<rect x="408.95" y="195.99" width="4.5" height="4.5" fill="#000"/>
<polyline points="325.4,147.35 325.4,147.35 325.4,155.83 325.9,155.83 325.9,164.31 326.3,164.31 326.3,172.79 329.3,172.79 329.3,181.27 329.3,181.27 329.3,189.76 339,189.76 339,198.24 344,198.24 344,206.72 352.6,206.72 352.6,215.2" fill="none" stroke="#000" stroke-width="0.9" stroke-linejoin="round"/>
<polygon points="325.4,153.43 327.8,155.83 325.4,158.23 323.0,155.83" fill="#fff" stroke="#000" stroke-width="0.9"/>
<polygon points="325.9,161.91 328.3,164.31 325.9,166.71 323.5,164.31" fill="#fff" stroke="#000" stroke-width="0.9"/>
<polygon points="326.3,170.39 328.7,172.79 326.3,175.19 323.9,172.79" fill="#fff" stroke="#000" stroke-width="0.9"/>
<polygon points="329.3,178.87 331.7,181.27 329.3,183.67 326.9,181.27" fill="#fff" stroke="#000" stroke-width="0.9"/>
<polygon points="329.3,187.36 331.7,189.76 329.3,192.16 326.9,189.76" fill="#fff" stroke="#000" stroke-width="0.9"/>
<polygon points="339,195.84 341.4,198.24 339,200.64 336.6,198.24" fill="#fff" stroke="#000" stroke-width="0.9"/>
<polygon points="344,204.32 346.4,206.72 344,209.12 341.6,206.72" fill="#fff" stroke="#000" stroke-width="0.9"/>
<polygon points="352.6,212.8 355.0,215.2 352.6,217.6 350.2,215.2" fill="#fff" stroke="#000" stroke-width="0.9"/>
<polyline points="325.4,147.35 325.4,147.35 325.4,155.83 325.9,155.83 325.9,164.31 326.3,164.31 326.3,172.79 329.3,172.79 329.3,181.27 335,181.27 335,189.76 339,189.76 339,198.24 349,198.24 349,206.72 352.6,206.72 352.6,215.2" fill="none" stroke="#000" stroke-width="0.9" stroke-linejoin="round"/>
<polygon points="325.4,153.43 327.8,155.83 325.4,158.23 323.0,155.83" fill="#fff" stroke="#000" stroke-width="0.9"/>
<polygon points="322.5,155.83 328.3,155.83 325.4,158.73" fill="#000"/>
<polygon points="325.9,161.91 328.3,164.31 325.9,166.71 323.5,164.31" fill="#fff" stroke="#000" stroke-width="0.9"/>
<polygon points="323.0,164.31 328.8,164.31 325.9,167.21" fill="#000"/>
<polygon points="326.3,170.39 328.7,172.79 326.3,175.19 323.9,172.79" fill="#fff" stroke="#000" stroke-width="0.9"/>
<polygon points="323.4,172.79 329.2,172.79 326.3,175.69" fill="#000"/>
<polygon points="329.3,178.87 331.7,181.27 329.3,183.67 326.9,181.27" fill="#fff" stroke="#000" stroke-width="0.9"/>
<polygon points="326.4,181.27 332.2,181.27 329.3,184.17" fill="#000"/>
<polygon points="335,187.36 337.4,189.76 335,192.16 332.6,189.76" fill="#fff" stroke="#000" stroke-width="0.9"/>
<polygon points="332.1,189.76 337.9,189.76 335,192.66" fill="#000"/>
<polygon points="339,195.84 341.4,198.24 339,200.64 336.6,198.24" fill="#fff" stroke="#000" stroke-width="0.9"/>
<polygon points="336.1,198.24 341.9,198.24 339,201.14" fill="#000"/>
<polygon points="349,204.32 351.4,206.72 349,209.12 346.6,206.72" fill="#fff" stroke="#000" stroke-width="0.9"/>
<polygon points="346.1,206.72 351.9,206.72 349,209.62" fill="#000"/>
<polygon points="352.6,212.8 355.0,215.2 352.6,217.6 350.2,215.2" fill="#fff" stroke="#000" stroke-width="0.9"/>
<polygon points="349.7,215.2 355.5,215.2 352.6,218.1" fill="#000"/>
<line x1="406.8" y1="138.5" x2="415.2" y2="138.5" stroke="#000" stroke-width="0.9"/>
<circle cx="411" cy="138.5" r="1.95" fill="#000"/>
<text x="420.5" y="140.92" font-size="6.76" text-anchor="start" >Untreated</text>
<line x1="406.8" y1="149" x2="415.2" y2="149" stroke="#000" stroke-width="0.9"/>
<rect x="409.15" y="147.15" width="3.7" height="3.7" fill="#fff" stroke="#000" stroke-width="0.9"/>
<text x="420.5" y="151.42" font-size="6.76" text-anchor="start" >SGN-CD33A, 100 mcg/kg</text>
<line x1="406.8" y1="159.8" x2="415.2" y2="159.8" stroke="#000" stroke-width="0.9"/>
<rect x="408.75" y="157.55" width="4.5" height="4.5" fill="#000"/>
<text x="420.5" y="162.22" font-size="6.76" text-anchor="start" >SGN-CD33A, 1000 mcg/lkg</text>
<line x1="406.8" y1="170.8" x2="415.2" y2="170.8" stroke="#000" stroke-width="0.9"/>
<polygon points="411,168.4 413.4,170.8 411,173.2 408.6,170.8" fill="#fff" stroke="#000" stroke-width="0.9"/>
<text x="420.5" y="173.22" font-size="6.76" text-anchor="start" >Control ADC, 1000 mcg/kg</text>
<line x1="406.8" y1="180.3" x2="415.2" y2="180.3" stroke="#000" stroke-width="0.9"/>
<polygon points="411,177.9 413.4,180.3 411,182.7 408.6,180.3" fill="#fff" stroke="#000" stroke-width="0.9"/>
<polygon points="408.1,180.3 413.9,180.3 411,183.2" fill="#000"/>
<text x="420.5" y="182.72" font-size="6.76" text-anchor="start" >GO, 1000 mcg/kg</text>
<text x="244.8" y="264.05" font-size="11.3" text-anchor="start" >F</text>
<text x="311.5" y="261.53" font-size="7.9" text-anchor="middle" >Model Characterization</text>
<line x1="264.6" y1="270.8" x2="264.6" y2="353.2" stroke="#000" stroke-width="1.3"/>
<line x1="261" y1="352.6" x2="264.6" y2="352.6" stroke="#000" stroke-width="1.2"/>
<text x="260.4" y="355.03" font-size="6.8" text-anchor="end" >0</text>
<line x1="261" y1="332.3" x2="264.6" y2="332.3" stroke="#000" stroke-width="1.2"/>
<text x="260.4" y="334.73" font-size="6.8" text-anchor="end" >20</text>
<line x1="261" y1="312.0" x2="264.6" y2="312.0" stroke="#000" stroke-width="1.2"/>
<text x="260.4" y="314.43" font-size="6.8" text-anchor="end" >40</text>
<line x1="261" y1="291.7" x2="264.6" y2="291.7" stroke="#000" stroke-width="1.2"/>
<text x="260.4" y="294.13" font-size="6.8" text-anchor="end" >60</text>
<line x1="261" y1="271.4" x2="264.6" y2="271.4" stroke="#000" stroke-width="1.2"/>
<text x="260.4" y="273.83" font-size="6.8" text-anchor="end" >80</text>
<line x1="264.0" y1="353.6" x2="346.89" y2="353.6" stroke="#000" stroke-width="1.3"/>
<line x1="264.6" y1="353.6" x2="264.6" y2="356.5" stroke="#000" stroke-width="1.2"/>
<text x="264.6" y="362.97" font-size="6.9" text-anchor="middle" >0</text>
<line x1="276.27" y1="353.6" x2="276.27" y2="356.5" stroke="#000" stroke-width="1.2"/>
<text x="276.27" y="362.97" font-size="6.9" text-anchor="middle" >10</text>
<line x1="287.94" y1="353.6" x2="287.94" y2="356.5" stroke="#000" stroke-width="1.2"/>
<text x="287.94" y="362.97" font-size="6.9" text-anchor="middle" >20</text>
<line x1="299.61" y1="353.6" x2="299.61" y2="356.5" stroke="#000" stroke-width="1.2"/>
<text x="299.61" y="362.97" font-size="6.9" text-anchor="middle" >30</text>
<line x1="311.28" y1="353.6" x2="311.28" y2="356.5" stroke="#000" stroke-width="1.2"/>
<text x="311.28" y="362.97" font-size="6.9" text-anchor="middle" >40</text>
<line x1="322.95" y1="353.6" x2="322.95" y2="356.5" stroke="#000" stroke-width="1.2"/>
<text x="322.95" y="362.97" font-size="6.9" text-anchor="middle" >50</text>
<line x1="334.62" y1="353.6" x2="334.62" y2="356.5" stroke="#000" stroke-width="1.2"/>
<text x="334.62" y="362.97" font-size="6.9" text-anchor="middle" >60</text>
<line x1="346.29" y1="353.6" x2="346.29" y2="356.5" stroke="#000" stroke-width="1.2"/>
<text x="346.29" y="362.97" font-size="6.9" text-anchor="middle" >70</text>
<text x="251.11" y="309.5" font-size="7.0" text-anchor="middle" transform="rotate(-90 251.11 309.5)">% huCD45+CD33+ Cells</text>
<text x="306" y="372.4" font-size="6.7" text-anchor="middle" >Days Post Implant</text>
<polyline points="264.6,352.6 302.5,340.5 312,328 328.7,308.2 337,292" fill="none" stroke="#000" stroke-width="1.5" stroke-linejoin="round"/>
<rect x="262.3" y="350.3" width="4.6" height="4.6" fill="#000"/>
<rect x="300.2" y="338.2" width="4.6" height="4.6" fill="#000"/>
<rect x="309.7" y="325.7" width="4.6" height="4.6" fill="#000"/>
<rect x="326.4" y="305.9" width="4.6" height="4.6" fill="#000"/>
<rect x="334.7" y="289.7" width="4.6" height="4.6" fill="#000"/>
<polyline points="264.6,352.6 302.5,352.2 312,352.2 328.7,351.6 337,352.2" fill="none" stroke="#000" stroke-width="1.5" stroke-linejoin="round"/>
<rect x="262.50" y="350.50" width="4.2" height="4.2" rx="0.5" fill="#fff" stroke="#000" stroke-width="1.3"/>
<rect x="300.40" y="350.10" width="4.2" height="4.2" rx="0.5" fill="#fff" stroke="#000" stroke-width="1.3"/>
<rect x="309.90" y="350.10" width="4.2" height="4.2" rx="0.5" fill="#fff" stroke="#000" stroke-width="1.3"/>
<rect x="326.60" y="349.50" width="4.2" height="4.2" rx="0.5" fill="#fff" stroke="#000" stroke-width="1.3"/>
<rect x="334.90" y="350.10" width="4.2" height="4.2" rx="0.5" fill="#fff" stroke="#000" stroke-width="1.3"/>
<line x1="323.5" y1="324.5" x2="334" y2="324.5" stroke="#000" stroke-width="1.5"/>
<rect x="326.4" y="322.2" width="4.6" height="4.6" fill="#000"/>
<text x="338.3" y="327.01" font-size="7.0" text-anchor="start" >Bone Marrow</text>
<line x1="323.5" y1="334.7" x2="334" y2="334.7" stroke="#000" stroke-width="1.5"/>
<rect x="326.60" y="332.60" width="4.2" height="4.2" rx="0.5" fill="#fff" stroke="#000" stroke-width="1.3"/>
<text x="338.3" y="337.21" font-size="7.0" text-anchor="start" >Blood</text>
<rect x="271.3" y="268.4" width="50.5" height="41.3" fill="#fff" stroke="#333" stroke-width="0.7"/>
<g filter="url(#bl)">
<polygon points="276.95,294.14 284.42,288.91 291.9,284.42 299.37,279.94 306.84,276.65 312.07,278.44 312.82,285.17 309.09,291.15 303.85,294.88 299.37,298.62 294.14,299.37 289.65,300.86 288.91,309.53 271.57,309.53 271.57,297.87" fill="#e2e2e2"/>
<polygon points="279.34,292.94 284.42,289.35 289.65,286.36 296.38,282.33 303.11,279.34 306.84,277.84 310.43,279.34 311.48,284.42 308.79,290.1 303.85,293.54 297.87,295.03 291.9,296.23 288.16,298.47 284.42,299.97 279.34,299.97" fill="#828282"/>
<polygon points="291.9,289.65 299.37,284.72 306.1,281.73 308.34,283.23 307.14,287.41 302.06,290.7 295.63,292.34" fill="#9d9d9d"/>
<polygon points="271.57,299.07 284.42,298.77 286.66,301.16 285.92,306.84 284.42,309.53 271.57,309.53" fill="#7c7c7c"/>
<polygon points="294.14,296.08 302.06,294.88 303.55,297.87 298.62,299.37 294.88,298.77" fill="#bdbdbd"/>
</g>
<line x1="286.2" y1="268.4" x2="286.2" y2="309.7" stroke="#666" stroke-width="0.5"/>
<line x1="271.3" y1="298.3" x2="321.8" y2="298.3" stroke="#666" stroke-width="0.5"/>
<text x="270.1" y="285.5" font-size="4.2" text-anchor="middle" transform="rotate(-90 270.1 285.5)" style="font-weight:normal">huCD45</text>
<text x="296.7" y="314" font-size="4" text-anchor="middle" style="font-weight:normal">CD33</text>
<line x1="407.7" y1="279.3" x2="407.7" y2="353.2" stroke="#000" stroke-width="1.0"/>
<line x1="404.6" y1="352.8" x2="407.7" y2="352.8" stroke="#000" stroke-width="0.9"/>
<text x="404.1" y="354.84" font-size="5.7" text-anchor="end" >0</text>
<line x1="404.6" y1="338.18" x2="407.7" y2="338.18" stroke="#000" stroke-width="0.9"/>
<text x="404.1" y="340.22" font-size="5.7" text-anchor="end" >20</text>
<line x1="404.6" y1="323.56" x2="407.7" y2="323.56" stroke="#000" stroke-width="0.9"/>
<text x="404.1" y="325.6" font-size="5.7" text-anchor="end" >40</text>
<line x1="404.6" y1="308.94" x2="407.7" y2="308.94" stroke="#000" stroke-width="0.9"/>
<text x="404.1" y="310.98" font-size="5.7" text-anchor="end" >60</text>
<line x1="404.6" y1="294.32" x2="407.7" y2="294.32" stroke="#000" stroke-width="0.9"/>
<text x="404.1" y="296.36" font-size="5.7" text-anchor="end" >80</text>
<line x1="404.6" y1="279.7" x2="407.7" y2="279.7" stroke="#000" stroke-width="0.9"/>
<text x="404.1" y="281.74" font-size="5.7" text-anchor="end" >100</text>
<line x1="407.2" y1="352.8" x2="517.2" y2="352.8" stroke="#000" stroke-width="1.0"/>
<line x1="414.8" y1="295.05" x2="414.8" y2="293.22" stroke="#000" stroke-width="0.8"/>
<line x1="413.2" y1="293.22" x2="416.4" y2="293.22" stroke="#000" stroke-width="0.8"/>
<rect x="411.60" y="295.05" width="6.4" height="57.75" fill="#fff" stroke="#000" stroke-width="0.9"/>
<line x1="421.6" y1="294.32" x2="421.6" y2="292.13" stroke="#333" stroke-width="0.8"/>
<line x1="420" y1="292.13" x2="423.2" y2="292.13" stroke="#333" stroke-width="0.8"/>
<rect x="418.40" y="294.32" width="6.4" height="58.48" fill="#4a4a4a" stroke="#222" stroke-width="0.6"/>
<line x1="418.2" y1="352.8" x2="418.2" y2="355.8" stroke="#000" stroke-width="0.9"/>
<text x="419.70" y="359.30" font-size="6.5" text-anchor="end" transform="rotate(-45 419.70 359.30)">Day-1</text>
<line x1="433.13" y1="300.17" x2="433.13" y2="295.05" stroke="#000" stroke-width="0.8"/>
<line x1="431.53" y1="295.05" x2="434.73" y2="295.05" stroke="#000" stroke-width="0.8"/>
<rect x="429.93" y="300.17" width="6.4" height="52.63" fill="#fff" stroke="#000" stroke-width="0.9"/>
<line x1="439.93" y1="327.95" x2="439.93" y2="324.66" stroke="#333" stroke-width="0.8"/>
<line x1="438.33" y1="324.66" x2="441.53" y2="324.66" stroke="#333" stroke-width="0.8"/>
<rect x="436.73" y="327.95" width="6.4" height="24.85" fill="#4a4a4a" stroke="#222" stroke-width="0.6"/>
<line x1="436.53" y1="352.8" x2="436.53" y2="355.8" stroke="#000" stroke-width="0.9"/>
<text x="438.03" y="359.30" font-size="6.5" text-anchor="end" transform="rotate(-45 438.03 359.30)">Day 10</text>
<line x1="451.46" y1="309.67" x2="451.46" y2="296.88" stroke="#000" stroke-width="0.8"/>
<line x1="449.86" y1="296.88" x2="453.06" y2="296.88" stroke="#000" stroke-width="0.8"/>
<rect x="448.26" y="309.67" width="6.4" height="43.13" fill="#fff" stroke="#000" stroke-width="0.9"/>
<line x1="458.26" y1="346.22" x2="458.26" y2="342.57" stroke="#333" stroke-width="0.8"/>
<line x1="456.66" y1="342.57" x2="459.86" y2="342.57" stroke="#333" stroke-width="0.8"/>
<rect x="455.06" y="346.22" width="6.4" height="6.58" fill="#4a4a4a" stroke="#222" stroke-width="0.6"/>
<line x1="454.86" y1="352.8" x2="454.86" y2="355.8" stroke="#000" stroke-width="0.9"/>
<text x="456.36" y="359.30" font-size="6.5" text-anchor="end" transform="rotate(-45 456.36 359.30)">Day 21</text>
<line x1="469.79" y1="291.4" x2="469.79" y2="288.47" stroke="#000" stroke-width="0.8"/>
<line x1="468.19" y1="288.47" x2="471.39" y2="288.47" stroke="#000" stroke-width="0.8"/>
<rect x="466.59" y="291.40" width="6.4" height="61.40" fill="#fff" stroke="#000" stroke-width="0.9"/>
<line x1="476.59" y1="349.88" x2="476.59" y2="349" stroke="#333" stroke-width="0.8"/>
<line x1="474.99" y1="349" x2="478.19" y2="349" stroke="#333" stroke-width="0.8"/>
<rect x="473.39" y="349.88" width="6.4" height="2.92" fill="#4a4a4a" stroke="#222" stroke-width="0.6"/>
<line x1="473.19" y1="352.8" x2="473.19" y2="355.8" stroke="#000" stroke-width="0.9"/>
<text x="474.69" y="359.30" font-size="6.5" text-anchor="end" transform="rotate(-45 474.69 359.30)">Day 31</text>
<line x1="488.12" y1="304.55" x2="488.12" y2="297.98" stroke="#000" stroke-width="0.8"/>
<line x1="486.52" y1="297.98" x2="489.72" y2="297.98" stroke="#000" stroke-width="0.8"/>
<rect x="484.92" y="304.55" width="6.4" height="48.25" fill="#fff" stroke="#000" stroke-width="0.9"/>
<line x1="494.92" y1="335.26" x2="494.92" y2="330.87" stroke="#333" stroke-width="0.8"/>
<line x1="493.32" y1="330.87" x2="496.52" y2="330.87" stroke="#333" stroke-width="0.8"/>
<rect x="491.72" y="335.26" width="6.4" height="17.54" fill="#4a4a4a" stroke="#222" stroke-width="0.6"/>
<line x1="491.52" y1="352.8" x2="491.52" y2="355.8" stroke="#000" stroke-width="0.9"/>
<text x="493.02" y="359.30" font-size="6.5" text-anchor="end" transform="rotate(-45 493.02 359.30)">Day 45</text>
<line x1="506.45" y1="292.86" x2="506.45" y2="289.93" stroke="#000" stroke-width="0.8"/>
<line x1="504.85" y1="289.93" x2="508.05" y2="289.93" stroke="#000" stroke-width="0.8"/>
<rect x="503.25" y="292.86" width="6.4" height="59.94" fill="#fff" stroke="#000" stroke-width="0.9"/>
<line x1="513.25" y1="305.29" x2="513.25" y2="294.69" stroke="#333" stroke-width="0.8"/>
<line x1="511.65" y1="294.69" x2="514.85" y2="294.69" stroke="#333" stroke-width="0.8"/>
<rect x="510.05" y="305.29" width="6.4" height="47.51" fill="#4a4a4a" stroke="#222" stroke-width="0.6"/>
<line x1="509.85" y1="352.8" x2="509.85" y2="355.8" stroke="#000" stroke-width="0.9"/>
<text x="511.35" y="359.30" font-size="6.5" text-anchor="end" transform="rotate(-45 511.35 359.30)">Day 55</text>
<text x="392.38" y="313.5" font-size="6.1" text-anchor="middle" transform="rotate(-90 392.38 313.5)">% huCD45+ Cells in Bone Marrow</text>
<rect x="422.9" y="262.6" width="6.2" height="4.2" fill="#fff" stroke="#000" stroke-width="0.9"/>
<rect x="422.9" y="271.2" width="6.2" height="4.2" fill="#4a4a4a" stroke="#222" stroke-width="0.7"/>
<text x="433.3" y="266.87" font-size="6.05" text-anchor="start" >Untreated</text>
<text x="433.3" y="275.47" font-size="6.05" text-anchor="start" >SGN-CD33A, 300 mcg/kg</text>
</g>
</svg>
</body></html>
